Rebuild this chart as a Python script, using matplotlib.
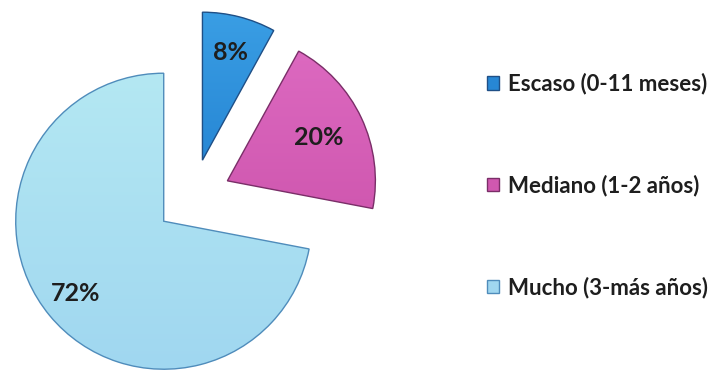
import numpy as np
import matplotlib.pyplot as plt
from matplotlib.colors import LinearSegmentedColormap

# Experience of respondents
labels = ["Escaso (0-11 meses)", "Mediano (1-2 años)", "Mucho (3-más años)"]
values = [8, 20, 72]
top_colors = ["#3A9EE4", "#DC69C0", "#B4E8F3"]
colors = ["#2787D5", "#D058B0", "#A0D7F0"]
edges = ["#1F4F86", "#7A2E68", "#4F8CBB"]
label_dist = [0.75, 0.68, 0.77]

fig = plt.figure(figsize=(7.13, 3.71), dpi=100)
ax = fig.add_axes([0, 0, 1, 1])

# pie drawn in pixel-like data units, so explode is an absolute offset
radius = 148
wedges, texts, autotexts = ax.pie(
    values,
    colors=colors,
    explode=[38] * len(values),
    startangle=90,
    counterclock=False,
    radius=radius,
    center=(193, 174),
    autopct="%d%%",
    frame=True,
    textprops=dict(fontsize=18, fontweight="bold", color="#1E1E1E", family=["Lato", "DejaVu Sans"]),
)

# vertical shading inside each slice
grad = np.linspace(1, 0, 256).reshape(-1, 1)
for w, top, base, ec, txt, d in zip(wedges, top_colors, colors, edges, autotexts, label_dist):
    w.set_edgecolor(ec)
    w.set_linewidth(1.0)
    cmap = LinearSegmentedColormap.from_list("shade", [base, top])
    (x0, y0), (x1, y1) = w.get_path().get_extents().get_points()
    im = ax.imshow(grad, cmap=cmap, extent=(x0, x1, y0, y1), origin="upper",
                   aspect="auto", zorder=w.get_zorder() - 0.01)
    im.set_clip_path(w)
    w.set_facecolor("none")
    mid = np.deg2rad((w.theta1 + w.theta2) / 2)
    cx, cy = w.center
    txt.set_position((cx + d * radius * np.cos(mid), cy + d * radius * np.sin(mid)))

ax.set_xlim(0, 713)
ax.set_ylim(0, 371)
ax.set_aspect("equal")
ax.axis("off")

leg = fig.legend(
    wedges, labels,
    loc="upper left",
    bbox_to_anchor=(467 / 713, 1 - 53 / 371),
    frameon=False,
    handlelength=0.55,
    handleheight=0.55,
    handletextpad=0.4,
    labelspacing=3.6,
    prop=dict(size=16, weight="bold", family=["Lato", "DejaVu Sans"]),
)
for h, c in zip(leg.legend_handles, colors):
    h.set_facecolor(c)
for t in leg.get_texts():
    t.set_color("#1E1E1E")

fig.savefig("out.png", dpi=100)
